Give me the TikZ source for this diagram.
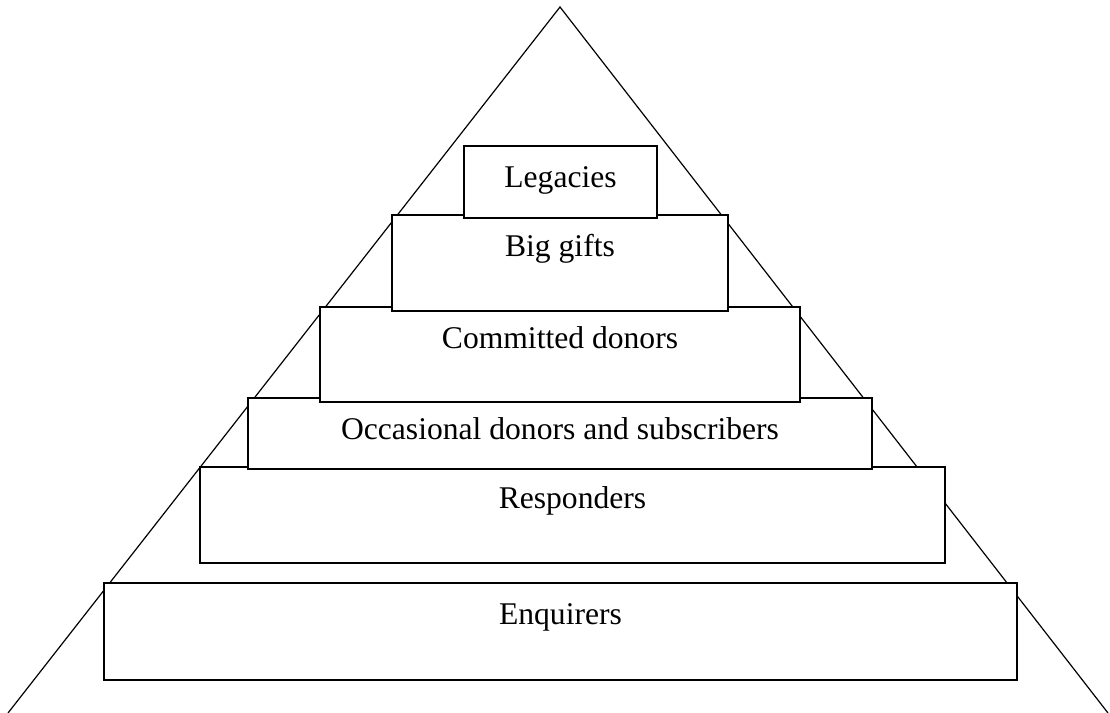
\documentclass[tikz,border=0pt]{standalone}
\usepackage{fontspec}
\setmainfont{Liberation Serif}
\usepackage{tikz}
\usetikzlibrary{positioning}

\begin{document}
\begin{tikzpicture}[
x=0.5pt, y=-0.5pt,
tier/.style={
draw,
fill=white,
rectangle,
anchor=north west,
line width=0.8pt,
inner sep=0pt,
outer sep=0pt,
align=center,
font=\fontsize{15.8}{19}\selectfont,
text height=20.5pt
},
side/.style={line width=0.6pt}
]

\useasboundingbox (0,0) rectangle (1110,713);

\coordinate (apex) at (560,7);
\coordinate (baseL) at (8,713);
\coordinate (baseR) at (1108,713);
\draw[side] (baseL) -- (apex) -- (baseR);

\node[tier, minimum width=456.5pt, minimum height=48.5pt, text depth=28pt] (enquirers) at (104,583) {Enquirers};
\node[tier, minimum width=372.5pt, minimum height=48pt, text depth=27.5pt] (responders) at (200,467) {Responders};
\node[tier, minimum width=312pt, minimum height=35.5pt, text depth=15pt] (occasional) at (248,398) {Occasional donors and subscribers};
\node[tier, minimum width=240pt, minimum height=47.5pt, text depth=27pt] (committed) at (320,307) {Committed donors};
\node[tier, minimum width=168pt, minimum height=48pt, text depth=27.5pt] (biggifts) at (392,215) {Big gifts};
\node[tier, minimum width=96.5pt, minimum height=36pt, text depth=15.5pt] (legacies) at (464,146) {Legacies};

\end{tikzpicture}
\end{document}
